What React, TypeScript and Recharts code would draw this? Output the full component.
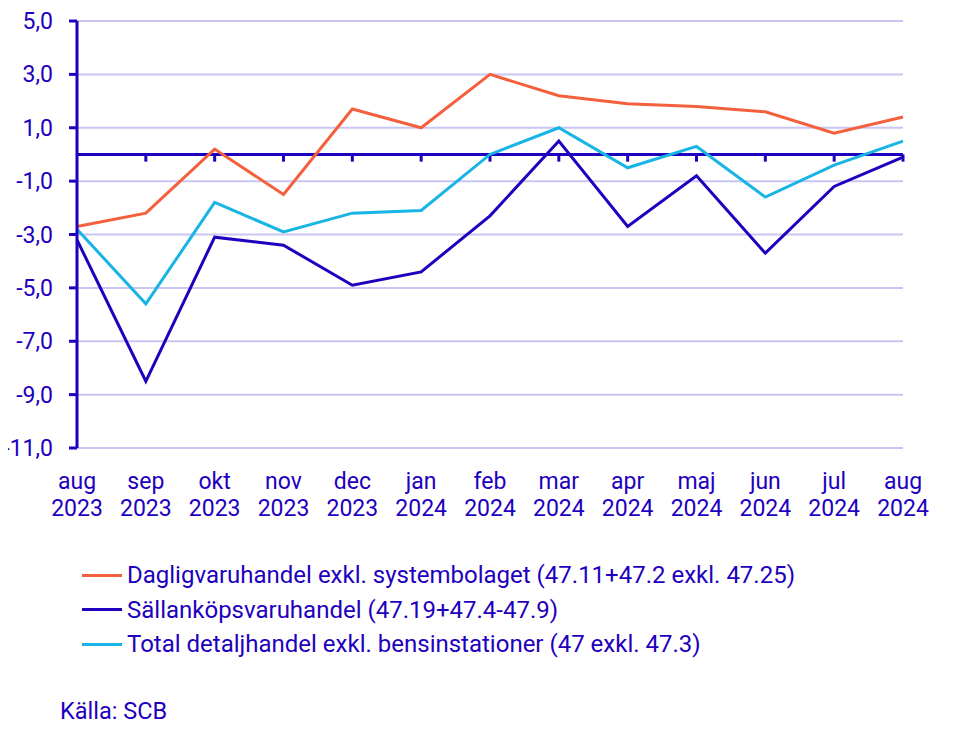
import React from 'react';
import { LineChart, Line, XAxis, YAxis, CartesianGrid, ReferenceLine } from 'recharts';

const months = ['aug', 'sep', 'okt', 'nov', 'dec', 'jan', 'feb', 'mar', 'apr', 'maj', 'jun', 'jul', 'aug'];
const years = ['2023', '2023', '2023', '2023', '2023', '2024', '2024', '2024', '2024', '2024', '2024', '2024', '2024'];
const dagligvaru = [-2.7, -2.2, 0.2, -1.5, 1.7, 1.0, 3.0, 2.2, 1.9, 1.8, 1.6, 0.8, 1.4];
const sallankop = [-3.2, -8.5, -3.1, -3.4, -4.9, -4.4, -2.3, 0.5, -2.7, -0.8, -3.7, -1.2, -0.1];
const total = [-2.8, -5.6, -1.8, -2.9, -2.2, -2.1, 0.0, 1.0, -0.5, 0.3, -1.6, -0.4, 0.5];
const yTicks = [-11, -9, -7, -5, -3, -1, 1, 3, 5];

const seriesNames = [
  'Dagligvaruhandel exkl. systembolaget (47.11+47.2 exkl. 47.25)',
  'Sällanköpsvaruhandel (47.19+47.4-47.9)',
  'Total detaljhandel exkl. bensinstationer (47 exkl. 47.3)',
];
const source = 'Källa: SCB';

const C_TEXT = '#1e00be';
const C_ORANGE = '#f4603d';
const C_DARK = '#1e00be';
const C_LIGHT = '#18b4e6';
const C_GRID = '#c8c6f2';
const FONT = 'Roboto, sans-serif';

const data = months.map((m, i) => ({
  key: `${m} ${years[i]}`,
  month: m,
  year: years[i],
  d: dagligvaru[i],
  s: sallankop[i],
  t: total[i],
}));

const fmt = (v: number) => v.toFixed(1).replace('.', ',');

const XTick = (props: any) => {
  const { x, y, payload } = props;
  const [m, yr] = String(payload.value).split(' ');
  return (
    <g>
      <text x={x} y={y + 41} textAnchor="middle" fill={C_TEXT} fontSize={23} fontFamily={FONT}>{m}</text>
      <text x={x} y={y + 68} textAnchor="middle" fill={C_TEXT} fontSize={23} fontFamily={FONT}>{yr}</text>
    </g>
  );
};

const YTick = (props: any) => {
  const { y, payload } = props;
  return (
    <text x={53} y={y} dy={8} textAnchor="end" fill={C_TEXT} fontSize={23} fontFamily={FONT}>
      {fmt(Number(payload.value))}
    </text>
  );
};

export default function App() {
  const colors = [C_ORANGE, C_DARK, C_LIGHT];
  return (
    <div style={{ position: 'relative', width: 964, height: 743, margin: -8, fontFamily: FONT }}>
      <LineChart width={964} height={538} data={data} margin={{ top: 21, right: 61, left: 0, bottom: 30 }} style={{ overflow: 'visible' }}>
        <CartesianGrid vertical={false} stroke={C_GRID} strokeWidth={2} />
        <XAxis
          dataKey="key"
          axisLine={false}
          tickLine={false}
          tickSize={0}
          tickMargin={0}
          height={60}
          interval={0}
          tick={<XTick />}
        />
        <YAxis
          width={77}
          domain={[-11, 5]}
          ticks={yTicks}
          interval={0}
          axisLine={{ stroke: C_DARK, strokeWidth: 3 }}
          tickLine={{ stroke: C_DARK, strokeWidth: 3 }}
          tickSize={8}
          tick={<YTick />}
        />
        <ReferenceLine y={0} stroke={C_DARK} strokeWidth={3} />
        {data.slice(1).map((row) => (
          <ReferenceLine
            key={`tick-${row.key}`}
            segment={[{ x: row.key, y: 0 }, { x: row.key, y: -0.27 }]}
            stroke={C_DARK}
            strokeWidth={3}
          />
        ))}
        <Line type="linear" dataKey="t" stroke={C_LIGHT} strokeWidth={3} dot={false} isAnimationActive={false} />
        <Line type="linear" dataKey="s" stroke={C_DARK} strokeWidth={3} dot={false} isAnimationActive={false} />
        <Line type="linear" dataKey="d" stroke={C_ORANGE} strokeWidth={3} dot={false} isAnimationActive={false} />
      </LineChart>
      {seriesNames.map((name, i) => (
        <div
          key={name}
          style={{ position: 'absolute', left: 82, top: 575 + i * 34.5 - 15, height: 30, display: 'flex', alignItems: 'center' }}
        >
          <div style={{ width: 40, height: 3, background: colors[i], marginRight: 5 }} />
          <span style={{ color: C_TEXT, fontSize: 24, lineHeight: '30px', whiteSpace: 'nowrap' }}>{name}</span>
        </div>
      ))}
      <div style={{ position: 'absolute', left: 60, top: 711 - 15, height: 30, color: C_TEXT, fontSize: 23.5, lineHeight: '30px' }}>
        {source}
      </div>
    </div>
  );
}
